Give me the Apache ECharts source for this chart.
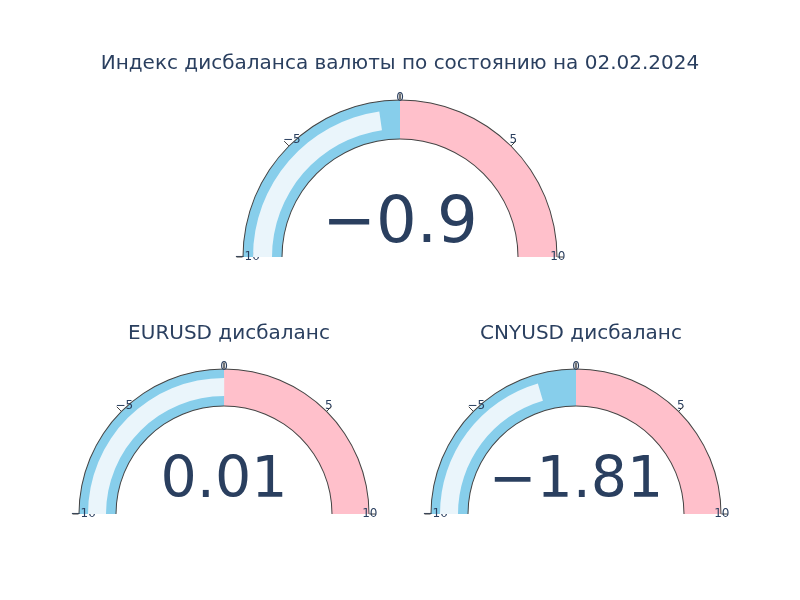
<!DOCTYPE html>
<html><head><meta charset="utf-8">
<script src="https://cdn.jsdelivr.net/npm/echarts@6/dist/echarts.min.js"></script>
<style>html,body{margin:0;background:#fff}#c{width:800px;height:600px}</style>
</head><body><div id="c"></div>
<script>
const titles = ['Индекс дисбаланса валюты по состоянию на 02.02.2024', 'EURUSD дисбаланс', 'CNYUSD дисбаланс'];
const values = [-0.9, 0.01, -1.81];
const axisRange = [-10, 10];
const tickLabels = ['−10', '−5', '0', '5', '10'];

const layouts = [
  {center: [400, 257], outer: 157, inner: 118, bar: [147, 128], font: 64, off: -32},
  {center: [224, 514], outer: 145, inner: 108, bar: [136, 118], font: 57, off: -32},
  {center: [576, 514], outer: 145, inner: 108, bar: [136, 118], font: 57, off: -32}
];
const FONT = '"DejaVu Sans", sans-serif';
const TXT = '#2a3f5f';
const series = [];
values.forEach((v, i) => {
  const L = layouts[i];
  const base = {type: 'gauge', startAngle: 180, endAngle: 0, min: axisRange[0], max: axisRange[1],
    center: L.center, pointer: {show: false}, anchor: {show: false}, title: {show: false},
    axisTick: {show: false}, splitLine: {show: false, distance: 0}, axisLabel: {show: false}, detail: {show: false}, silent: true};
  // background bands with value text
  series.push(Object.assign({}, base, {
    radius: L.outer,
    axisLine: {lineStyle: {width: L.outer - L.inner, color: [[0.5, '#87CEEB'], [1, '#FFC0CB']]}},
    detail: {show: true, offsetCenter: [0, L.off], fontSize: L.font, color: TXT, fontFamily: FONT, fontWeight: 'normal',
      formatter: (x) => String(x).replace('-', '−')},
    data: [{value: v}]
  }));
  // inner border
  series.push(Object.assign({}, base, {radius: L.inner + 0.5, axisLine: {lineStyle: {width: 1, color: [[1, '#444']]}}, data: [{value: v}]}));
  // value bar
  series.push(Object.assign({}, base, {
    radius: L.bar[0], axisLine: {lineStyle: {width: 0, color: [[1, 'rgba(0,0,0,0)']]}},
    progress: {show: true, width: L.bar[0] - L.bar[1], itemStyle: {color: '#eaf5fb'}},
    data: [{value: v}]
  }));
  // outer border with ticks and labels
  series.push(Object.assign({}, base, {
    radius: L.outer + 0.5, splitNumber: 4,
    axisLine: {lineStyle: {width: 1, color: [[1, '#444']]}},
    axisTick: {show: true, splitNumber: 1, length: 6, distance: -7, lineStyle: {color: '#444', width: 1}},
    axisLabel: {show: true, distance: -18, color: TXT, fontSize: 12, fontFamily: FONT,
      formatter: (x) => tickLabels[Math.round((x - axisRange[0]) / 5)]},
    data: [{value: v}]
  }));
});
const chart = echarts.init(document.getElementById('c'));
chart.setOption({
  animation: false,
  title: [
    {text: titles[0], left: 'center', top: 49, textStyle: {fontSize: 20, fontWeight: 'normal', color: TXT, fontFamily: FONT}},
    {text: titles[1], left: 224, textAlign: 'center', top: 319, textStyle: {fontSize: 20, fontWeight: 'normal', color: TXT, fontFamily: FONT}},
    {text: titles[2], left: 576, textAlign: 'center', top: 319, textStyle: {fontSize: 20, fontWeight: 'normal', color: TXT, fontFamily: FONT}}
  ],
  series: series
});
</script></body></html>
